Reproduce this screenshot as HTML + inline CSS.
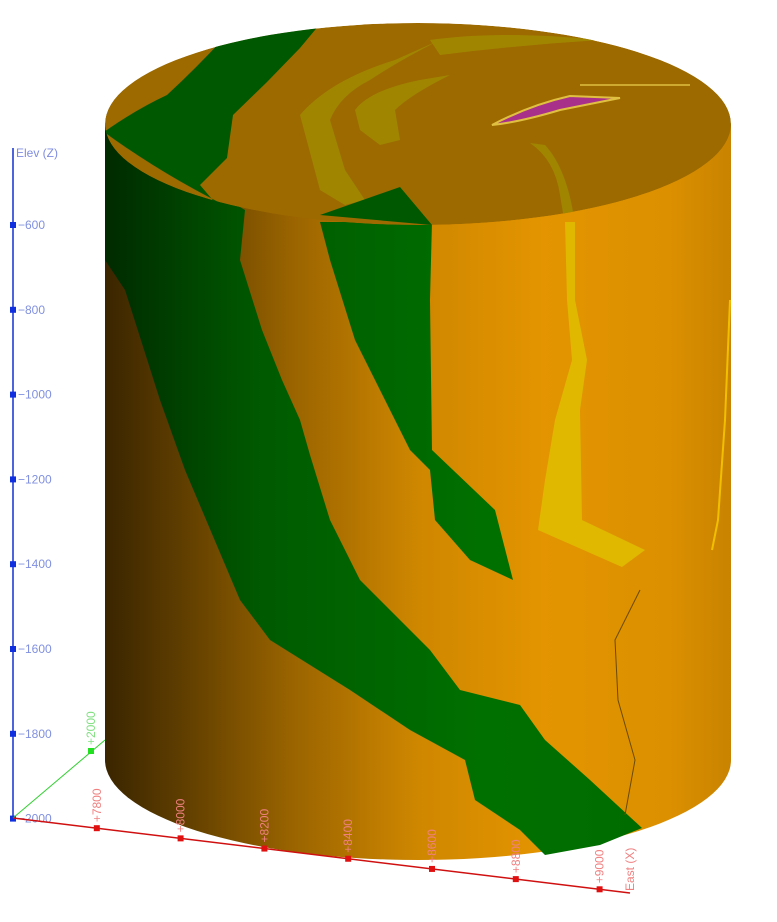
<!DOCTYPE html>
<html><head><meta charset="utf-8"><style>
html,body{margin:0;padding:0;background:#fff;}
svg{display:block;font-family:"Liberation Sans",sans-serif;}
</style></head><body>
<svg id="chart" width="777" height="922" viewBox="0 0 777 922">
<defs>
<linearGradient id="side" x1="105" y1="0" x2="731" y2="0" gradientUnits="userSpaceOnUse">
<stop offset="0" stop-color="#3a2500"/>
<stop offset="0.12" stop-color="#5e3d00"/>
<stop offset="0.3" stop-color="#9a6400"/>
<stop offset="0.5" stop-color="#cf8700"/>
<stop offset="0.7" stop-color="#e39400"/>
<stop offset="0.9" stop-color="#dc9000"/>
<stop offset="1" stop-color="#c98300"/>
</linearGradient>
<linearGradient id="gside" x1="105" y1="0" x2="731" y2="0" gradientUnits="userSpaceOnUse">
<stop offset="0" stop-color="#002a00"/>
<stop offset="0.25" stop-color="#005a00"/>
<stop offset="0.6" stop-color="#007000"/>
<stop offset="1" stop-color="#006a00"/>
</linearGradient>
<clipPath id="topclip"><ellipse cx="418" cy="124" rx="313" ry="101"/></clipPath>
</defs>
<g>
<path d="M105,125 L105,760 A313,100 0 0 0 731,760 L731,125 Z" fill="url(#side)"/>
<path fill="url(#gside)" d="M105,130 L110,130 L245,210 L240,260 L262,330 L282,380 L300,420 L310,455 L330,520 L360,580 L400,620 L430,650 L460,690 L520,705 L545,740 L590,780 L642,828 L600,845 L545,855 L520,830 L475,800 L465,760 L410,730 L350,690 L270,640 L240,600 L185,470 L160,400 L125,290 L105,260 Z"/>
<path fill="url(#gside)" d="M320,222 L432,222 L430,300 L432,450 L495,510 L513,580 L470,560 L435,520 L430,470 L410,450 L380,390 L355,340 L330,260 Z"/>
<path fill="#e0b800" d="M565,222 L575,222 L575,300 L587,360 L580,410 L582,520 L645,550 L622,567 L538,530 L545,480 L555,420 L572,360 L567,300 Z"/>
<path d="M730,300 L725,420 L718,520 L712,550" stroke="#f0c000" stroke-width="2" fill="none"/>
<path d="M640,590 L615,640 L618,700 L635,760 L625,815" stroke="#6a4a00" stroke-width="1" fill="none"/>
</g>
<g clip-path="url(#topclip)">
<ellipse cx="418" cy="124" rx="313" ry="101" fill="#9d6a00"/>
<path fill="#005800" d="M104,132 Q135,110 167,95 Q205,60 240,20 L325,18 L300,48 L267,82 L233,115 L227,158 L200,185 L217,205 L245,215 Q170,180 104,132 Z"/>
<path fill="#a08600" d="M300,115 Q330,80 395,60 L440,40 Q400,60 370,80 Q340,95 330,120 L345,170 L365,200 L345,205 L320,190 Z"/>
<path fill="#a08600" d="M355,110 Q370,90 420,80 L450,75 Q410,95 395,110 L400,140 L380,145 L360,130 Z"/>
<path fill="#a08600" d="M430,40 Q500,30 600,40 Q520,45 440,55 Z"/>
<path fill="#005800" d="M320,215 L400,187 L432,225 Z"/>
<path fill="#a08600" d="M530,143 Q555,160 560,195 L565,225 L575,225 Q568,170 545,145 Z"/>
<path fill="#a8308a" stroke="#e0c040" stroke-width="2" d="M492,125 Q530,105 570,96 L620,98 L560,110 Q520,122 492,125 Z"/>
<path d="M580,85 L690,85" stroke="#e0c040" stroke-width="1.5"/>
</g>
<g id="axes"></g>
<script>
const elevTicks=[-600,-800,-1000,-1200,-1400,-1600,-1800,-2000];
const eastTicks=["+7800","+8000","+8200","+8400","+8600","+8800","+9000"];
const eastValues=[7800,8000,8200,8400,8600,8800,9000];
const northTicks=["+2000"];
const NS="http://www.w3.org/2000/svg";
const g=document.getElementById('axes');
function el(t,a,p){const e=document.createElementNS(NS,t);for(const k in a)e.setAttribute(k,a[k]);(p||g).appendChild(e);return e;}
const yZ=v=>225+(v+600)/(-200)*84.8;
const xE=v=>13+(v-7600)/200*83.8;
const yE=x=>818+(x-13)*(75/617);
let l=el('line',{x1:13,y1:148,x2:13,y2:818,stroke:'#1030d0','stroke-width':1.5});


let t=el('text',{x:16,y:157,fill:'#7f8ce0','font-size':12});t.textContent='Elev (Z)';


elevTicks.forEach(v=>{const y=yZ(v);
 const r=el('rect',{x:10,y:y-3,width:6,height:6,fill:'#1030e0'});
 
 
 const tx=el('text',{x:18,y:y+4,fill:'#8090e0','font-size':12});tx.textContent='\u2212'+Math.abs(v);
 
 });
l=el('line',{x1:13,y1:818,x2:105,y2:740,stroke:'#30d030','stroke-width':1});


northTicks.forEach(s=>{const r=el('rect',{x:88,y:748,width:6,height:6,fill:'#20e020'});
 
 
 const tx=el('text',{transform:'translate(95,745) rotate(-90)',fill:'#80e080','font-size':12});tx.textContent=s;
 
 });
l=el('line',{x1:13,y1:818,x2:630,y2:893,stroke:'#d01010','stroke-width':1.5});


eastValues.forEach((v,i)=>{const x=xE(v),y=yE(x);
 const r=el('rect',{x:x-3,y:y-3,width:6,height:6,fill:'#e01010'});
 
 
 const tx=el('text',{transform:`translate(${x+4},${y-6}) rotate(-90)`,fill:'#f08080','font-size':12});tx.textContent=eastTicks[i];
 
 });
t=el('text',{transform:'translate(634,891) rotate(-90)',fill:'#f08080','font-size':12});t.textContent='East (X)';


</script>
</svg>
</body></html>
